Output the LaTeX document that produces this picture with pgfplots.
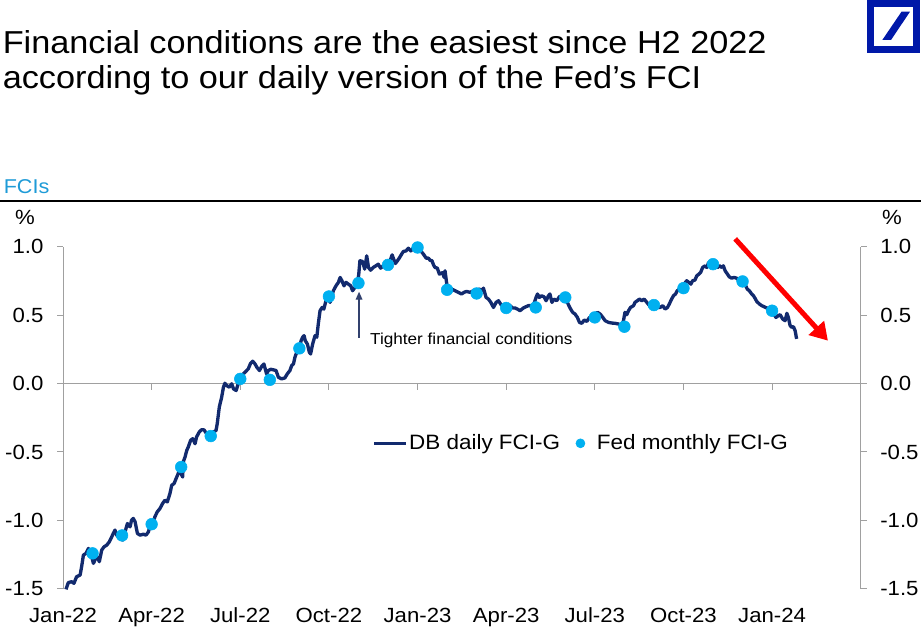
\documentclass[border=0pt]{standalone}
\usepackage{pgfplots}
\pgfplotsset{compat=1.18}
\usepackage{pgfplotstable}
\usepackage{fontspec}
\setmainfont{Liberation Sans}[FakeStretch=1.08]
\usetikzlibrary{arrows.meta}
\definecolor{dbnavy}{RGB}{18,42,110}
\definecolor{fedblue}{RGB}{0,176,240}
\definecolor{fcitext}{RGB}{30,155,215}
\definecolor{dblogo}{RGB}{0,24,168}
\definecolor{axgrey}{RGB}{160,160,160}
\definecolor{annot}{RGB}{50,65,110}

\pgfplotstableread{
m v
0.10 -1.504
0.18 -1.455
0.29 -1.448
0.37 -1.460
0.46 -1.412
0.58 -1.399
0.63 -1.339
0.69 -1.254
0.78 -1.241
0.86 -1.205
0.94 -1.241
1.03 -1.314
1.08 -1.290
1.16 -1.266
1.23 -1.302
1.31 -1.217
1.39 -1.193
1.48 -1.181
1.57 -1.156
1.65 -1.120
1.70 -1.096
1.76 -1.071
1.82 -1.108
1.87 -1.120
1.95 -1.132
2.02 -1.144
2.10 -1.084
2.18 -1.023
2.27 -1.047
2.32 -0.999
2.38 -0.986
2.44 -1.011
2.52 -1.096
2.61 -1.108
2.72 -1.101
2.81 -1.108
2.89 -1.084
2.94 -1.047
3.04 -1.023
3.11 -0.974
3.19 -0.938
3.28 -0.914
3.37 -0.877
3.45 -0.853
3.53 -0.865
3.62 -0.804
3.68 -0.743
3.76 -0.731
3.85 -0.683
3.90 -0.658
3.96 -0.610
4.02 -0.671
4.05 -0.683
4.07 -0.573
4.13 -0.537
4.19 -0.488
4.24 -0.464
4.32 -0.415
4.39 -0.403
4.47 -0.440
4.52 -0.391
4.61 -0.355
4.69 -0.338
4.77 -0.338
4.86 -0.367
4.98 -0.367
5.09 -0.355
5.18 -0.343
5.22 -0.294
5.29 -0.172
5.37 -0.100
5.43 -0.027
5.48 0.002
5.54 -0.015
5.63 -0.027
5.71 -0.002
5.77 -0.039
5.86 -0.051
5.93 -0.002
6.05 0.058
6.16 0.083
6.27 0.107
6.35 0.148
6.42 0.163
6.50 0.143
6.56 0.119
6.65 0.095
6.72 0.124
6.80 0.143
6.89 0.070
6.95 0.095
7.03 0.104
7.12 0.100
7.21 0.095
7.29 0.046
7.40 0.034
7.51 0.041
7.59 0.070
7.68 0.095
7.74 0.131
7.80 0.143
7.85 0.192
7.91 0.228
7.99 0.253
8.06 0.313
8.11 0.338
8.16 0.350
8.20 0.313
8.27 0.289
8.34 0.228
8.38 0.216
8.45 0.289
8.53 0.350
8.59 0.338
8.64 0.435
8.70 0.532
8.77 0.556
8.83 0.544
8.90 0.605
8.98 0.629
9.04 0.593
9.09 0.629
9.15 0.678
9.24 0.714
9.32 0.739
9.38 0.775
9.44 0.751
9.51 0.714
9.58 0.739
9.66 0.726
9.74 0.714
9.80 0.678
9.88 0.702
9.96 0.714
10.01 0.799
10.05 0.897
10.14 0.892
10.21 0.836
10.28 0.933
10.34 0.848
10.41 0.828
10.50 0.848
10.59 0.860
10.67 0.872
10.75 0.843
10.84 0.860
10.93 0.865
11.05 0.884
11.14 0.940
11.18 0.916
11.25 0.877
11.32 0.897
11.38 0.916
11.46 0.945
11.52 0.965
11.61 0.969
11.69 0.989
11.77 0.969
11.86 0.989
11.95 0.994
12.03 0.989
12.11 0.969
12.20 0.945
12.29 0.916
12.37 0.916
12.42 0.901
12.49 0.897
12.54 0.867
12.59 0.848
12.67 0.843
12.74 0.799
12.85 0.811
12.90 0.775
12.93 0.824
12.99 0.726
13.04 0.702
13.16 0.690
13.27 0.678
13.38 0.666
13.49 0.654
13.57 0.666
13.66 0.673
13.78 0.666
13.89 0.678
14.00 0.654
14.09 0.690
14.17 0.678
14.23 0.697
14.32 0.629
14.40 0.617
14.48 0.593
14.57 0.556
14.66 0.593
14.74 0.605
14.81 0.581
14.90 0.561
15.02 0.569
15.13 0.569
15.22 0.552
15.30 0.552
15.38 0.544
15.47 0.532
15.58 0.552
15.67 0.561
15.75 0.569
15.83 0.569
15.92 0.569
16.01 0.629
16.06 0.654
16.12 0.629
16.20 0.641
16.28 0.634
16.35 0.605
16.43 0.641
16.48 0.654
16.55 0.593
16.62 0.617
16.71 0.605
16.80 0.634
16.88 0.641
16.99 0.617
17.07 0.593
17.16 0.552
17.25 0.520
17.33 0.508
17.41 0.483
17.48 0.447
17.56 0.440
17.64 0.464
17.73 0.454
17.82 0.483
17.93 0.483
18.01 0.503
18.09 0.520
18.18 0.508
18.27 0.483
18.35 0.459
18.46 0.447
18.57 0.442
18.68 0.440
18.80 0.435
18.91 0.423
18.97 0.459
19.02 0.520
19.08 0.503
19.14 0.532
19.21 0.556
19.31 0.569
19.36 0.593
19.44 0.605
19.51 0.617
19.59 0.605
19.67 0.617
19.76 0.593
19.85 0.569
19.96 0.569
20.04 0.576
20.12 0.556
20.21 0.556
20.30 0.569
20.38 0.544
20.46 0.556
20.52 0.581
20.60 0.617
20.66 0.641
20.73 0.654
20.79 0.678
20.86 0.690
20.95 0.714
21.02 0.726
21.11 0.751
21.18 0.739
21.25 0.726
21.31 0.751
21.39 0.756
21.45 0.787
21.52 0.799
21.58 0.811
21.65 0.848
21.73 0.860
21.79 0.848
21.85 0.884
21.92 0.884
21.98 0.872
22.07 0.860
22.15 0.848
22.22 0.860
22.30 0.848
22.35 0.860
22.41 0.824
22.49 0.799
22.55 0.780
22.63 0.770
22.71 0.775
22.80 0.770
22.89 0.751
23.01 0.739
23.08 0.726
23.16 0.690
23.23 0.678
23.31 0.654
23.37 0.641
23.42 0.624
23.48 0.600
23.57 0.581
23.65 0.569
23.73 0.561
23.82 0.552
23.91 0.532
23.99 0.508
24.04 0.513
24.13 0.483
24.21 0.496
24.27 0.503
24.36 0.471
24.44 0.459
24.50 0.513
24.55 0.483
24.61 0.423
24.66 0.411
24.72 0.416
24.78 0.386
24.83 0.326
}\dbdaily

\pgfplotstableread{
m v
1 -1.241
2 -1.110
3 -1.028
4 -0.610
5 -0.384
6 0.034
7 0.027
8 0.257
9 0.636
10 0.734
11 0.867
12 0.994
13 0.685
14 0.658
15 0.552
16 0.556
17 0.629
18 0.483
19 0.415
20 0.573
21 0.697
22 0.872
23 0.746
24 0.532
}\fedmonthly

\begin{document}
\begin{tikzpicture}
\begin{scope}[x=0.75pt,y=0.75pt]
\useasboundingbox (0,0) rectangle (921,-634);
% title
\node[anchor=base west, inner sep=0pt, font=\fontsize{23.8}{28}\selectfont] at (2.5,-53.3) {Financial conditions are the easiest since H2 2022};
\node[anchor=base west, inner sep=0pt, font=\fontsize{23.8}{28}\selectfont] at (2.5,-88.3) {according to our daily version of the Fed’s FCI};
% logo
\draw[dblogo, line width=5.25pt] (870.2,-4) rectangle (916.8,-49.8);
\fill[dblogo] (882.3,-40) -- (891,-40) -- (910,-11.7) -- (901.5,-11.7) -- cycle;
% FCIs header
\node[anchor=base west, inner sep=0pt, text=fcitext, font=\fontsize{15}{18}\selectfont] at (3.5,-194) {FCIs};
\draw[black, line width=1.5pt] (0,-200.7) -- (921,-200.7);
\node[anchor=base, inner sep=0pt, font=\fontsize{15.4}{18}\selectfont] at (25,-225) {\%};
\node[anchor=base, inner sep=0pt, font=\fontsize{15.4}{18}\selectfont] at (892,-225) {\%};
\end{scope}

% background axis: zero line, x ticks, right y axis
\begin{axis}[
  at={(47.25pt,-441.6pt)}, anchor=south west,
  width=598.3pt, height=256.6pt, scale only axis,
  xmin=0, xmax=27, ymin=-1.5, ymax=1.0,
  axis x line*=middle, axis y line*=right,
  axis line style={axgrey, line width=0.75pt},
  xtick={0,3,...,27}, xticklabels={},
  xtick align=outside,
  ytick={-1.5,-1,-0.5,0,0.5,1},
  yticklabels={-1.5,-1.0,-0.5,0.0,0.5,1.0},
  ytick align=outside,
  major tick length=4.5pt,
  tick style={axgrey, line width=0.75pt},
  yticklabel style={anchor=west, inner sep=0pt, xshift=10pt, font=\fontsize{15.4}{18}\selectfont},
]
\end{axis}

% main axis
\begin{axis}[
  at={(47.25pt,-441.6pt)}, anchor=south west,
  width=598.3pt, height=256.6pt, scale only axis,
  xmin=0, xmax=27, ymin=-1.5, ymax=1.0,
  clip=false,
  axis x line*=bottom, axis y line*=left,
  x axis line style={draw=none},
  y axis line style={axgrey, line width=0.75pt},
  xtick={0,3,...,24},
  xticklabels={Jan-22,Apr-22,Jul-22,Oct-22,Jan-23,Apr-23,Jul-23,Oct-23,Jan-24},
  x tick style={draw=none},
  xticklabel style={anchor=base, inner sep=0pt, yshift=-24.9pt, font=\fontsize{15.4}{18}\selectfont},
  ytick={-1.5,-1,-0.5,0,0.5,1},
  yticklabels={-1.5,-1.0,-0.5,0.0,0.5,1.0},
  ytick align=outside,
  major tick length=4.5pt,
  y tick style={axgrey, line width=0.75pt},
  yticklabel style={anchor=east, inner sep=0pt, xshift=-10pt, font=\fontsize{15.4}{18}\selectfont},
  legend style={at={(axis cs:10.47,-0.437)}, anchor=west, draw=none, fill=none,
    inner sep=0pt, outer sep=0pt, font=\fontsize{15.6}{18}\selectfont,
    nodes={inner sep=0pt},
    /tikz/every odd column/.append style={column sep=1pt},
    /tikz/every even column/.append style={column sep=11.6pt}},
  legend columns=-1,
]
\addplot[dbnavy, line width=2.5pt, line join=round,
  legend image code/.code={\draw[dbnavy, line width=2.6pt] (0pt,0pt) -- (24pt,0pt);}]
  table[x=m, y=v] {\dbdaily};
\addlegendentry{DB daily FCI-G}
\addplot[only marks, color=fedblue, mark=*, mark size=4.4pt,
  legend image code/.code={\fill[fedblue] (3.4pt,0pt) circle (3.4pt); \path (14.6pt,0pt);}]
  table[x=m, y=v] {\fedmonthly};
\addlegendentry{Fed monthly FCI-G}

% annotation
\draw[annot, line width=0.9pt, -{Triangle[length=6pt,width=5pt]}] (axis cs:10.02,0.335) -- (axis cs:10.02,0.671);
\node[anchor=base west, inner sep=0pt, font=\fontsize{11.9}{14}\selectfont] at (axis cs:10.39,0.284) {Tighter financial conditions};
% red arrow
\draw[red, line width=3.75pt, -{Triangle[length=13pt,width=15pt]}] (axis cs:22.75,1.057) -- (axis cs:25.89,0.313);
\end{axis}
\end{tikzpicture}
\end{document}
